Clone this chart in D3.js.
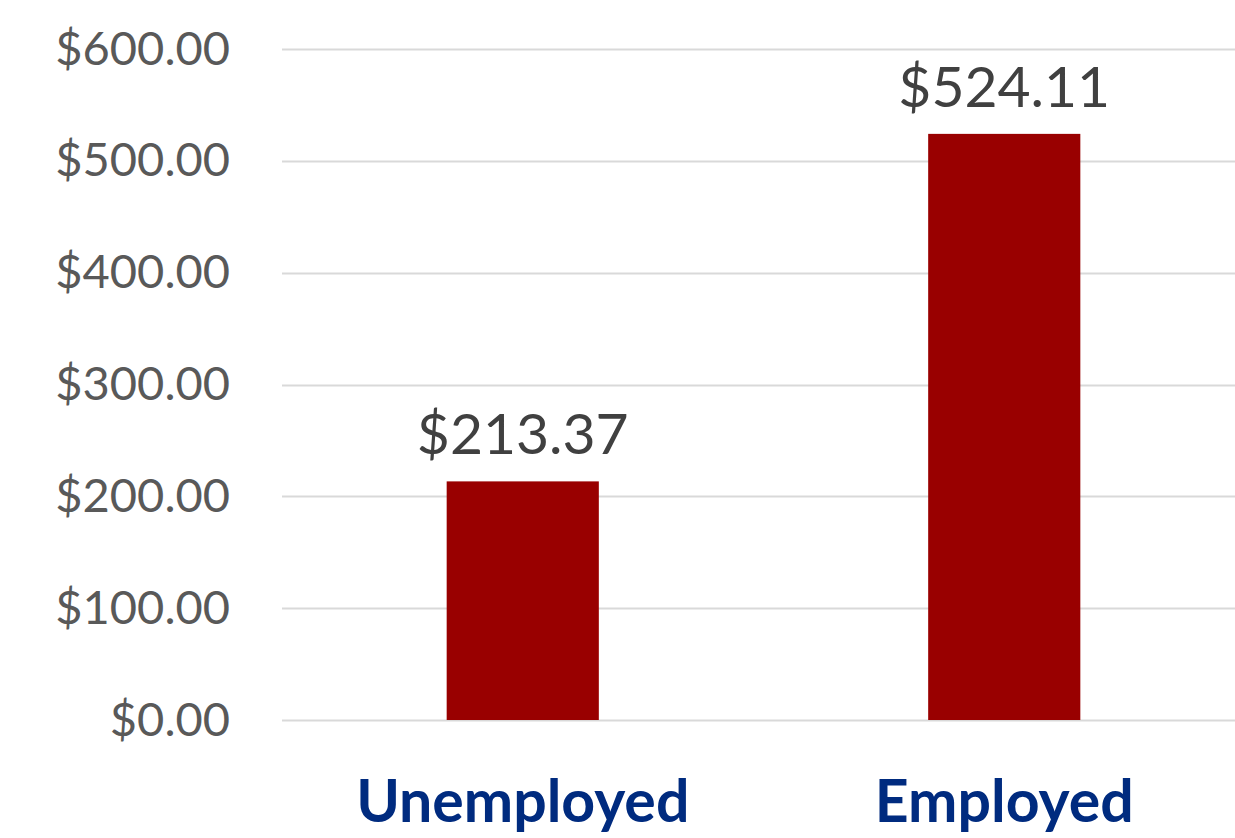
<!DOCTYPE html>
<html>
<head>
<meta charset="utf-8">
<script src="https://cdn.jsdelivr.net/npm/d3@7"></script>
<style>
  html, body { margin: 0; padding: 0; background: #fff; }
  svg { display: block; }
</style>
</head>
<body>
<svg id="chart" width="1235" height="838"></svg>
<script>
// Average amount by employment status
const categories = ["Unemployed", "Employed"];
const values = [213.37, 524.11];
const tickValues = [0, 100, 200, 300, 400, 500, 600];

const width = 1235, height = 838;
const margin = { top: 49, right: -10, bottom: 118, left: 282 };

const svg = d3.select("#chart");

const x = d3.scaleBand()
  .domain(categories)
  .range([margin.left, width - margin.right])
  .paddingInner(0.684)
  .paddingOuter(0.342);

const y = d3.scaleLinear()
  .domain([0, 600])
  .range([height - margin.bottom, margin.top]);

const fmt = v => "$" + d3.format(",.2f")(v);

// Gridlines
svg.append("g")
  .selectAll("line")
  .data(tickValues)
  .join("line")
  .attr("x1", margin.left)
  .attr("x2", width)
  .attr("y1", d => Math.round(y(d)) + 0.5)
  .attr("y2", d => Math.round(y(d)) + 0.5)
  .attr("stroke", "#d9d9d9")
  .attr("stroke-width", 2);

// Y axis labels
const yAxis = d3.axisLeft(y)
  .tickValues(tickValues)
  .tickFormat(fmt)
  .tickSize(0)
  .tickPadding(0);

const yg = svg.append("g")
  .attr("transform", `translate(230,0)`)
  .call(yAxis);
yg.select(".domain").remove();
yg.selectAll("text")
  .attr("fill", "#595959")
  .style("font-family", "Lato, 'Open Sans', sans-serif")
  .style("font-size", "47px");

// Bars
svg.append("g")
  .selectAll("rect")
  .data(values)
  .join("rect")
  .attr("x", (d, i) => x(categories[i]))
  .attr("width", x.bandwidth())
  .attr("y", d => y(d))
  .attr("height", d => y(0) - y(d))
  .attr("fill", "#990000");

// Value labels
svg.append("g")
  .selectAll("text")
  .data(values)
  .join("text")
  .attr("x", (d, i) => x(categories[i]) + x.bandwidth() / 2)
  .attr("y", d => y(d) - 27)
  .attr("text-anchor", "middle")
  .attr("fill", "#404040")
  .style("font-family", "Lato, 'Open Sans', sans-serif")
  .style("font-size", "57px")
  .text(fmt);

// Category labels
const xAxis = d3.axisBottom(x).tickSize(0).tickPadding(0);
const xg = svg.append("g")
  .attr("transform", `translate(0,${y(0) + 102})`)
  .call(xAxis);
xg.select(".domain").remove();
xg.selectAll("text")
  .attr("dy", 0)
  .attr("fill", "#002b7f")
  .style("font-family", "Lato, 'Open Sans', sans-serif")
  .style("font-weight", "bold")
  .style("font-size", "59px");
</script>
</body>
</html>
